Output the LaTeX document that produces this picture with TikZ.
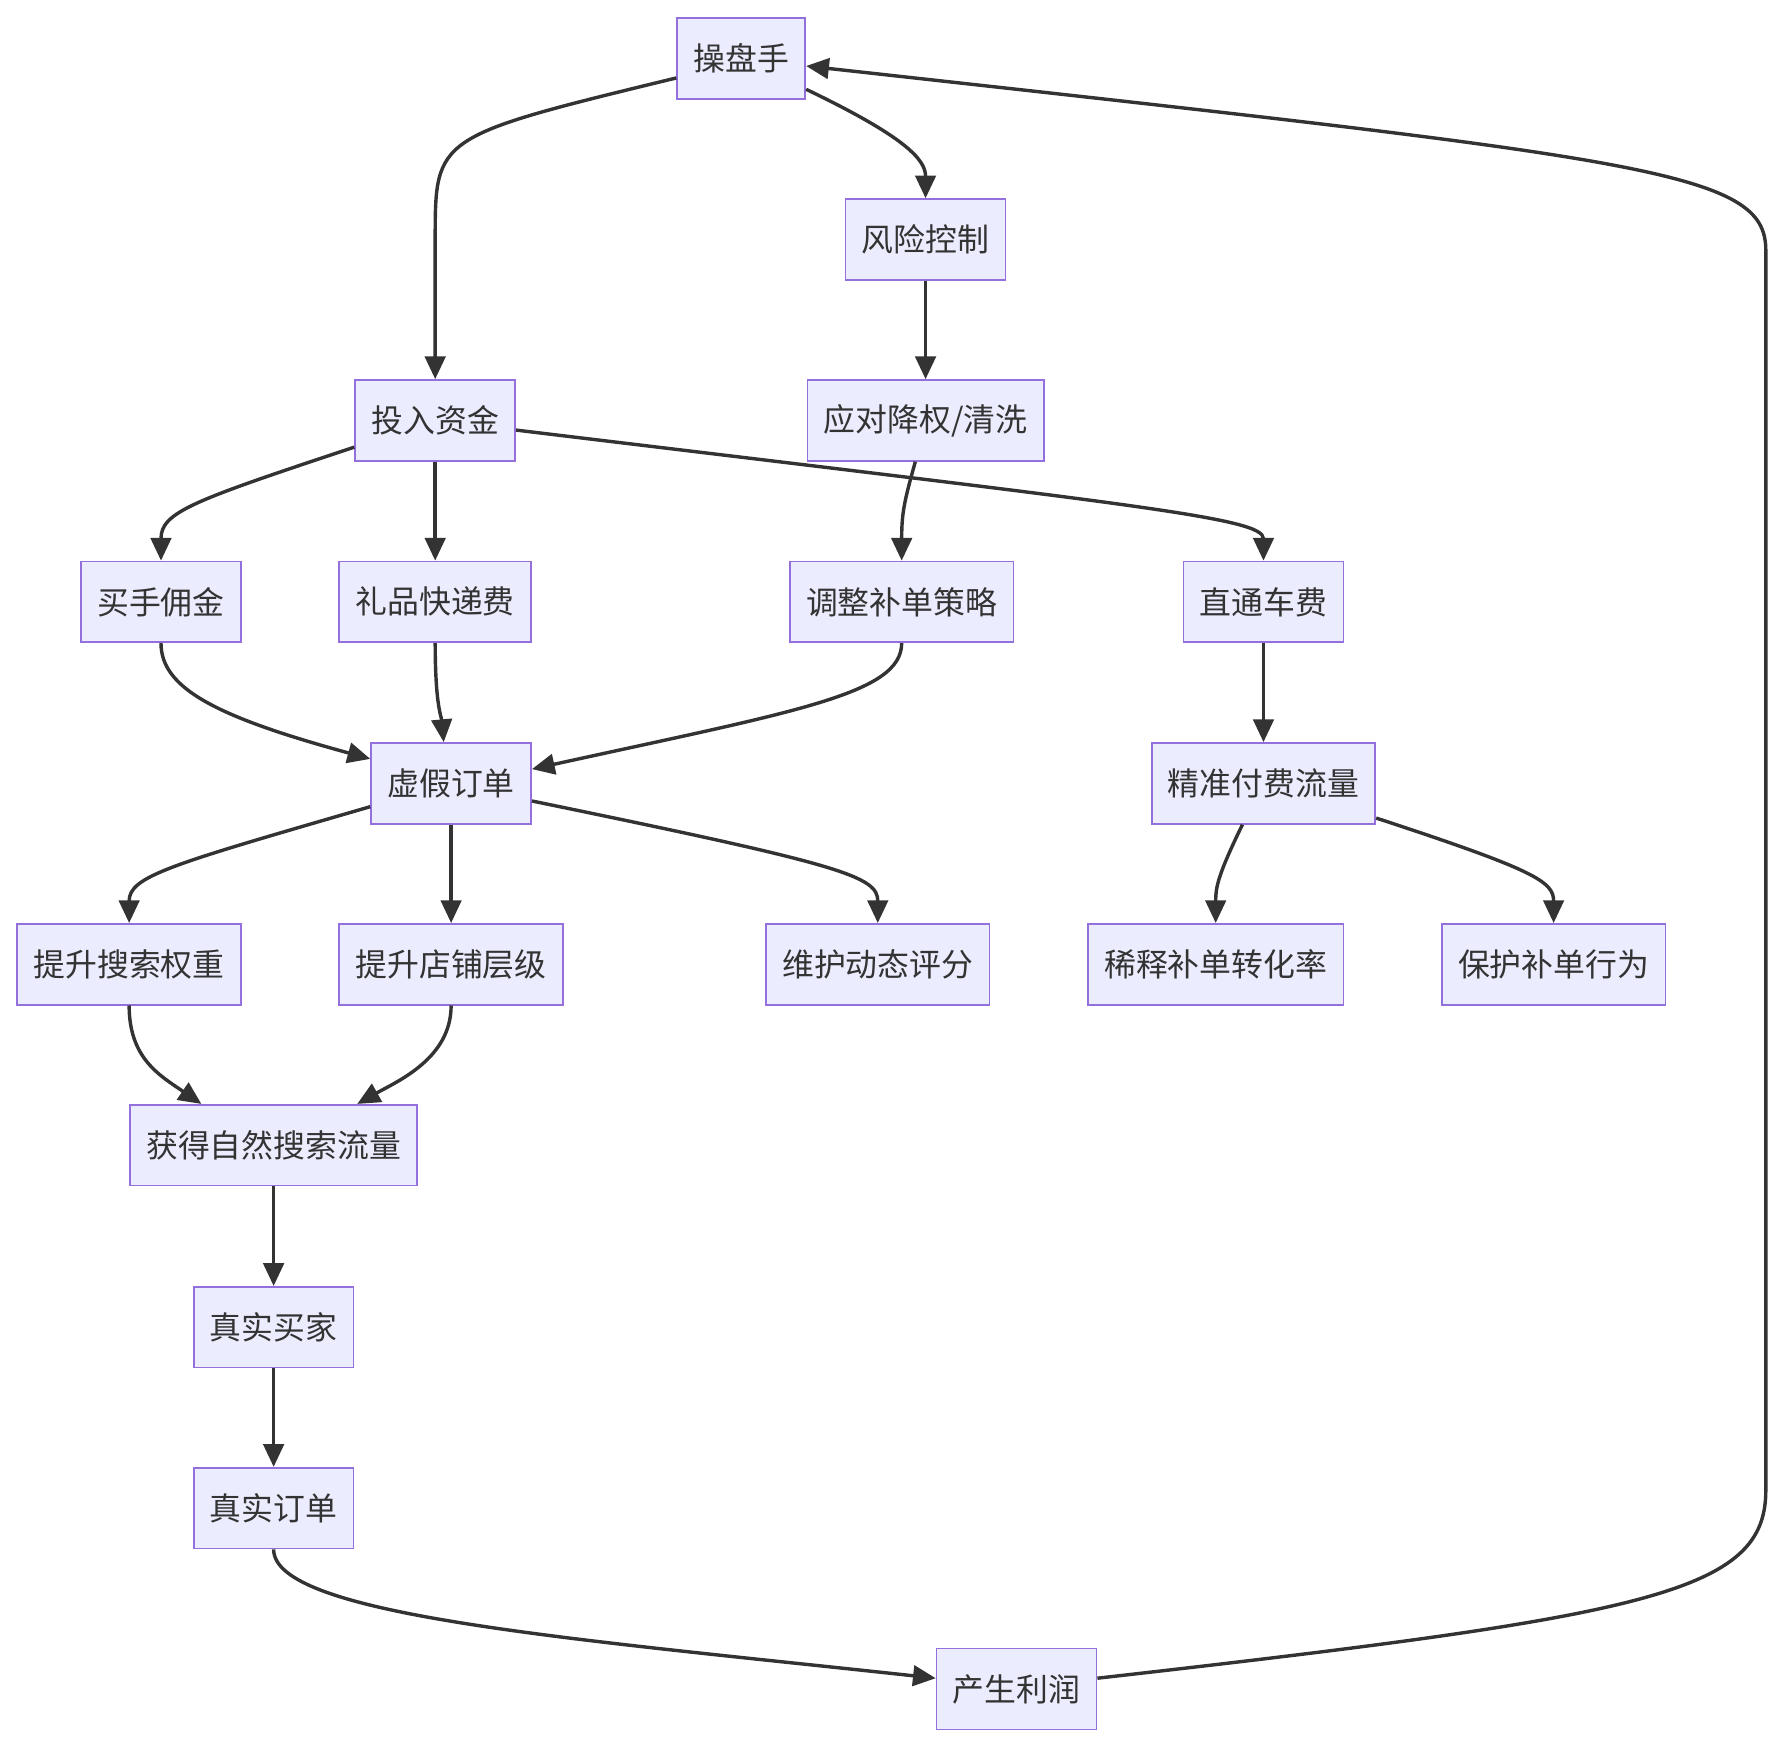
\documentclass[tikz,border=0pt]{standalone}
\usepackage{fontspec}
\usepackage{tikz}
\usetikzlibrary{arrows.meta}
\setmainfont{Noto Sans CJK SC}
\definecolor{boxfill}{HTML}{ECECFF}
\definecolor{boxline}{HTML}{9370DB}
\definecolor{ink}{HTML}{333333}

\begin{document}
\begin{tikzpicture}[x=1pt,y=1pt,
    box/.style={draw=boxline,fill=boxfill,line width=1.5pt,minimum height=71pt,
        inner xsep=14.3pt,inner ysep=0pt,text=ink,font=\fontsize{28}{34}\selectfont},
    arr/.style={draw=ink,line width=3pt,-{Triangle[length=20pt,width=18pt]}}]
    \useasboundingbox (0,0) rectangle (1568,-1534);
    \node[box] (caopan) at (651.5,-51.5) {操盘手};
    \node[box] (fengxian) at (813.5,-210.5) {风险控制};
    \node[box] (touzi) at (382.5,-369.5) {投入资金};
    \node[box] (yingdui) at (813.5,-369.5) {应对降权/清洗};
    \node[box] (maishou) at (141.5,-529) {买手佣金};
    \node[box] (liping) at (382.5,-529) {礼品快递费};
    \node[box] (tiaozheng) at (792.5,-529) {调整补单策略};
    \node[box] (zhitong) at (1110.5,-529) {直通车费};
    \node[box] (xujia) at (396.5,-688.5) {虚假订单};
    \node[box] (jingzhun) at (1110.5,-688.5) {精准付费流量};
    \node[box] (quanzhong) at (113.5,-847.5) {提升搜索权重};
    \node[box] (cengji) at (396.5,-847.5) {提升店铺层级};
    \node[box] (pingfen) at (771.5,-847.5) {维护动态评分};
    \node[box] (xishi) at (1068.5,-847.5) {稀释补单转化率};
    \node[box] (baohu) at (1365.5,-847.5) {保护补单行为};
    \node[box] (ziran) at (240.5,-1006.5) {获得自然搜索流量};
    \node[box] (maijia) at (240.5,-1166.5) {真实买家};
    \node[box] (dingdan) at (240.5,-1325.5) {真实订单};
    \node[box] (lirun) at (893.5,-1484.5) {产生利润};

    \draw[arr] ([yshift=-17]caopan.west) .. controls (382.5,-120) .. (382.5,-210) -- (touzi.north);
    \draw[arr] ([yshift=-27]caopan.east) .. controls (795,-120) and (813.5,-140) .. (fengxian.north);
    \draw[arr] (fengxian.south) -- (yingdui.north);
    \draw[arr] ([yshift=-23.5]touzi.west) .. controls (170,-440) and (141.5,-450) .. (maishou.north);
    \draw[arr] (touzi.south) -- (liping.north);
    \draw[arr] ([yshift=-8.5]touzi.east) .. controls (1000,-444) and (1110.5,-455) .. (zhitong.north);
    \draw[arr] ([xshift=-9]yingdui.south) .. controls (795,-440) and (792.5,-450) .. (tiaozheng.north);
    \draw[arr] (maishou.south) .. controls (141.5,-605) and (190,-630) .. ([yshift=21.5]xujia.west);
    \draw[arr] (liping.south) .. controls (382.5,-620) and (388,-630) .. ([xshift=-6.5]xujia.north);
    \draw[arr] (tiaozheng.south) .. controls (792.5,-610) and (700,-625) .. ([yshift=12.5]xujia.east);
    \draw[arr] (zhitong.south) -- (jingzhun.north);
    \draw[arr] ([yshift=-20.5]xujia.west) .. controls (150,-760) and (113.5,-770) .. (quanzhong.north);
    \draw[arr] (xujia.south) -- (cengji.north);
    \draw[arr] ([yshift=-15.5]xujia.east) .. controls (740,-760) and (771.5,-770) .. (pingfen.north);
    \draw[arr] ([xshift=-18.5]jingzhun.south) .. controls (1070,-770) and (1068.5,-780) .. (xishi.north);
    \draw[arr] ([yshift=-30.5]jingzhun.east) .. controls (1350,-765) and (1365.5,-775) .. (baohu.north);
    \draw[arr] (quanzhong.south) .. controls (113.5,-930) and (140,-945) .. ([xshift=-63.5]ziran.north);
    \draw[arr] (cengji.south) .. controls (396.5,-930) and (350,-950) .. ([xshift=73.5]ziran.north);
    \draw[arr] (ziran.south) -- (maijia.north);
    \draw[arr] (maijia.south) -- (dingdan.north);
    \draw[arr] (dingdan.south) .. controls (240.5,-1420) and (500,-1440) .. ([yshift=9.5]lirun.west);
    \draw[arr] ([yshift=9.5]lirun.east) .. controls (1450,-1420) and (1552,-1400) .. (1552,-1310)
        -- (1552,-220) .. controls (1552,-150) and (1450,-140) .. ([yshift=-6.5]caopan.east);
\end{tikzpicture}
\end{document}
